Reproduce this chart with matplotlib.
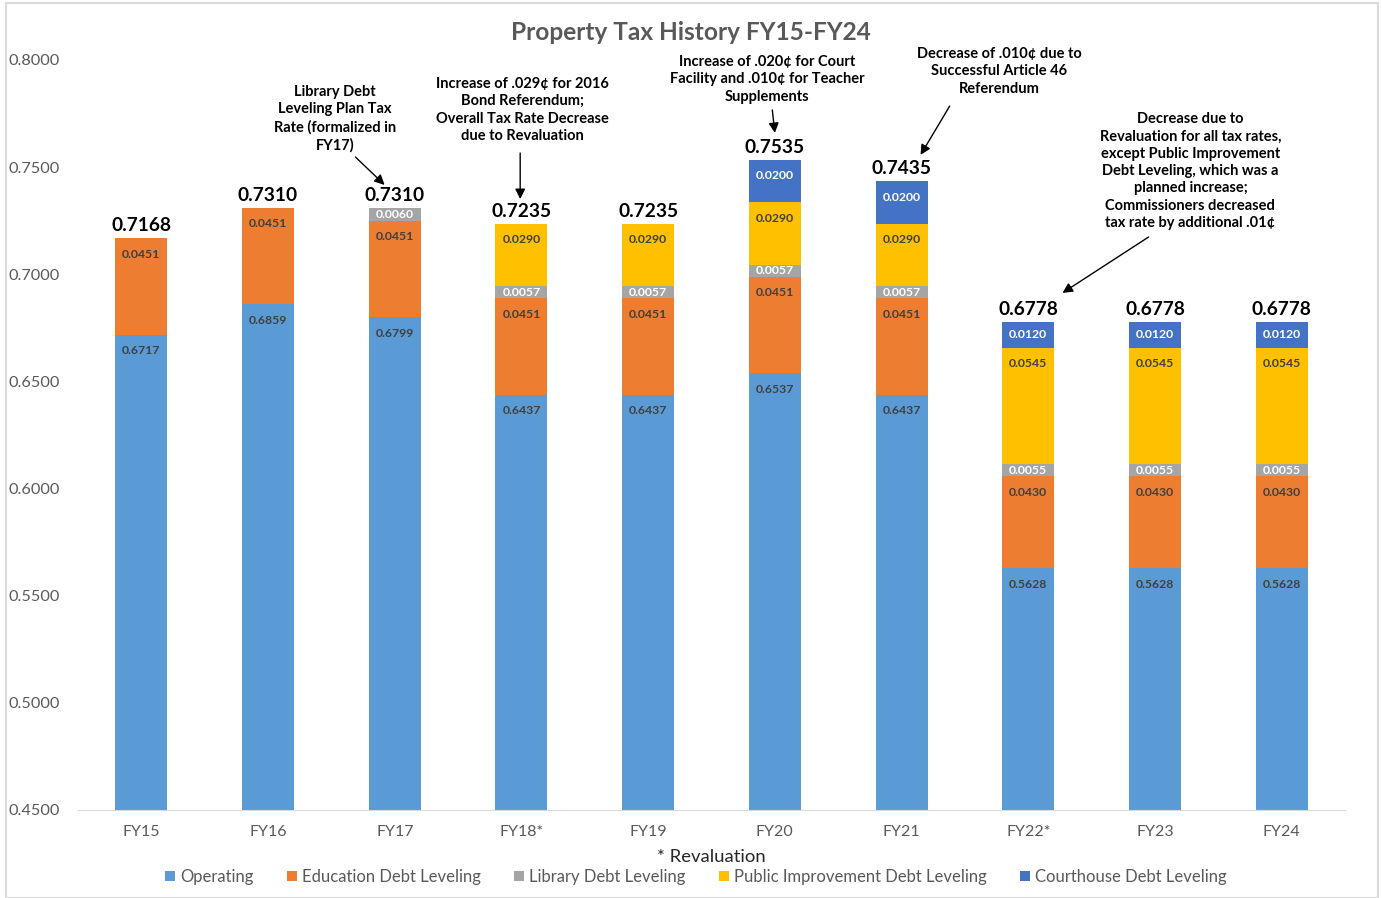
import matplotlib
matplotlib.use('Agg')
import matplotlib.pyplot as plt
from matplotlib.patches import Rectangle
import numpy as np

years = ['FY15', 'FY16', 'FY17', 'FY18*', 'FY19', 'FY20', 'FY21', 'FY22*', 'FY23', 'FY24']
operating = [0.6717, 0.6859, 0.6799, 0.6437, 0.6437, 0.6537, 0.6437, 0.5628, 0.5628, 0.5628]
education = [0.0451, 0.0451, 0.0451, 0.0451, 0.0451, 0.0451, 0.0451, 0.0430, 0.0430, 0.0430]
library = [0, 0, 0.0060, 0.0057, 0.0057, 0.0057, 0.0057, 0.0055, 0.0055, 0.0055]
public_impr = [0, 0, 0, 0.0290, 0.0290, 0.0290, 0.0290, 0.0545, 0.0545, 0.0545]
courthouse = [0, 0, 0, 0, 0, 0.0200, 0.0200, 0.0120, 0.0120, 0.0120]

series = [
    ('Operating', operating, '#5B9BD5', '#404040'),
    ('Education Debt Leveling', education, '#ED7D31', '#404040'),
    ('Library Debt Leveling', library, '#A5A5A5', 'white'),
    ('Public Improvement Debt Leveling', public_impr, '#FFC000', '#404040'),
    ('Courthouse Debt Leveling', courthouse, '#4472C4', 'white'),
]

# callout text, text x / top y, arrow tail, arrow head (data coords)
notes = [
    ('Library Debt\nLeveling Plan Tax\nRate (formalized in\nFY17)', 1.53, 0.7883, (1.69, 0.7547), (1.92, 0.7417)),
    ('Increase of .029\u00a2 for 2016\nBond Referendum;\nOverall Tax Rate Decrease\ndue to Revaluation', 3.01, 0.7921, (2.99, 0.7566), (2.99, 0.7351)),
    ('Increase of .020\u00a2 for Court\nFacility and .010\u00a2 for Teacher\nSupplements', 4.94, 0.8023, (4.98, 0.7767), (5.00, 0.7659)),
    ('Decrease of .010\u00a2 due to\nSuccessful Article 46\nReferendum', 6.77, 0.8061, (6.38, 0.7785), (6.15, 0.7557)),
    ('Decrease due to\nRevaluation for all tax rates,\nexcept Public Improvement\nDebt Leveling, which was a\nplanned increase;\nCommissioners decreased\ntax rate by additional .01\u00a2',
     8.28, 0.7757, (7.95, 0.7174), (7.27, 0.6913)),
]

plt.rcParams['font.family'] = ['Lato', 'DejaVu Sans']

fig = plt.figure(figsize=(13.82, 8.98), dpi=100)
ax = fig.add_axes([78 / 1382, 88 / 898, (1345 - 78) / 1382, 750 / 898])

x = np.arange(len(years))
bottom = np.zeros(len(years))
px = 0.35 / 750  # data units per pixel
for name, vals, color, tcol in series:
    vals = np.array(vals)
    ax.bar(x, vals, 0.41, bottom=bottom, color=color, label=name, zorder=2)
    for i, v in enumerate(vals):
        if v <= 0:
            continue
        top = bottom[i] + v
        off = min(16 * px, v / 2)
        ax.text(x[i], top - off, f'{v:.4f}', ha='center', va='center',
                fontsize=8.8, fontweight='bold', color=tcol, zorder=3)
    bottom += vals

for i, t in enumerate(bottom):
    ax.text(x[i], t + 4 * px, f'{t:.4f}', ha='center', va='bottom',
            fontsize=13.8, fontweight='bold', color='black')

for txt, tx, ty, tail, head in notes:
    ax.text(tx, ty, txt, ha='center', va='top', fontsize=10.5, fontweight='bold',
            color='black', linespacing=1.3)
    ax.annotate('', xy=head, xytext=tail, annotation_clip=False,
                arrowprops=dict(arrowstyle='-|>', color='black', lw=1,
                                mutation_scale=15, shrinkA=0, shrinkB=0))

ax.set_xlim(-0.5, 9.5)
ax.set_ylim(0.45, 0.80)
ax.set_yticks(np.arange(0.45, 0.8001, 0.05))
ax.set_yticklabels([f'{v:.4f}' for v in np.arange(0.45, 0.8001, 0.05)])
ax.set_xticks(x)
ax.set_xticklabels(years)
ax.tick_params(axis='y', length=0, pad=13, labelsize=11.7, labelcolor='#595959')
ax.tick_params(axis='x', length=0, pad=11, labelsize=11.5, labelcolor='#595959')
for s in ['top', 'right', 'left']:
    ax.spines[s].set_visible(False)
ax.spines['bottom'].set_color('#d9d9d9')

ax.set_xlabel('* Revaluation', fontsize=13.3, color='#262626', labelpad=7)
fig.text(0.5, 1 - 33 / 898, 'Property Tax History FY15-FY24', ha='center',
         va='center', fontsize=17.6, fontweight='bold', color='#595959')

fig.legend(loc='center', bbox_to_anchor=(696 / 1382, 1 - 877 / 898), ncol=5,
           frameon=False, fontsize=12, handlelength=0.6, handleheight=0.6,
           handletextpad=0.3, columnspacing=2.0, labelcolor='#595959')

fig.patches.append(Rectangle((6 / 1382, 0.0), 1372 / 1382, 1 - 3 / 898,
                             transform=fig.transFigure, fill=False,
                             edgecolor='#d9d9d9', lw=1.5))

fig.savefig('out.png', dpi=100)
